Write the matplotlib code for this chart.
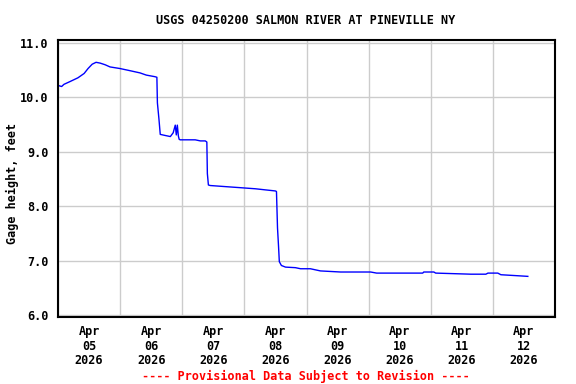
import matplotlib
matplotlib.use("Agg")
import matplotlib.pyplot as plt
import matplotlib.dates as mdates
import pandas as pd
import numpy as np

# Hours after 2026-04-05 00:00 and gage height (feet)
hours = [0.0, 1.4, 2.3, 4.6, 7.7, 10.1, 11.6, 13.2, 14.7, 16.3, 18.2, 20.1,
         24.0, 27.9, 31.7, 34.1, 37.5, 38.2, 38.4, 39.0, 39.5, 41.4, 43.4,
         44.5, 45.3, 45.7, 46.1, 46.5, 46.8, 47.2, 53.0, 55.0, 56.9, 57.5,
         57.7, 58.1, 58.8, 64.6, 70.5, 76.3, 80.1, 84.0, 84.4, 84.8, 85.2,
         85.5, 86.3, 87.9, 91.7, 93.7, 97.5, 101.4, 109.2, 120.8, 123.1,
         132.4, 140.9, 141.3, 145.2, 145.9, 159.5, 165.3, 166.1, 169.9,
         171.1, 178.1, 181.5]
gage_ft = [10.22, 10.20, 10.24, 10.29, 10.36, 10.44, 10.53, 10.61, 10.645,
           10.63, 10.60, 10.56, 10.53, 10.49, 10.45, 10.41, 10.38, 10.37,
           9.90, 9.60, 9.32, 9.30, 9.28, 9.35, 9.49, 9.31, 9.49, 9.29, 9.23,
           9.22, 9.22, 9.20, 9.20, 9.18, 8.60, 8.39, 8.38, 8.36, 8.34, 8.32,
           8.30, 8.28, 8.27, 7.60, 7.26, 6.98, 6.91, 6.88, 6.87, 6.85, 6.85,
           6.81, 6.79, 6.79, 6.77, 6.77, 6.77, 6.79, 6.79, 6.77, 6.75, 6.75,
           6.77, 6.77, 6.74, 6.72, 6.71]

start = pd.Timestamp("2026-04-05 00:00")
times = [start + pd.Timedelta(hours=h) for h in hours]

title = "USGS 04250200 SALMON RIVER AT PINEVILLE NY"
ylabel = "Gage height, feet"
footer = "---- Provisional Data Subject to Revision ----"
yticks = [6.0, 7.0, 8.0, 9.0, 10.0, 11.0]

font = "DejaVu Sans Mono"

fig = plt.figure(figsize=(5.76, 3.84), dpi=100)
ax = fig.add_axes([58/576, 1 - 317/384, (555 - 58)/576, (317 - 40)/384])

ax.plot(times, gage_ft, color="#0000ff", linewidth=1.0)

ax.set_xlim(start, start + pd.Timedelta(days=8))
ax.set_ylim(5.963, 11.055)

ax.xaxis.set_major_locator(mdates.DayLocator())
ax.xaxis.set_major_formatter(plt.NullFormatter())
ax.xaxis.set_minor_locator(mdates.HourLocator(byhour=[12]))
ax.xaxis.set_minor_formatter(mdates.DateFormatter("%b\n%d\n%Y"))
ax.set_yticks(yticks)
ax.set_yticklabels([f"{v:.1f}" for v in yticks])

ax.grid(True, which="major", color="#cccccc", linewidth=1.0)
ax.set_axisbelow(True)
ax.tick_params(which="both", length=0)
ax.tick_params(axis="x", which="minor", pad=6)
ax.tick_params(axis="y", pad=7)

for lab in ax.get_xticklabels(minor=True) + ax.get_yticklabels():
    lab.set_fontfamily(font)
    lab.set_fontweight("bold")
    lab.set_fontsize(8.5)
for lab in ax.get_xticklabels(minor=True):
    lab.set_linespacing(1.15)

for s in ax.spines.values():
    s.set_linewidth(1.5)
    s.set_color("black")

fig.text(306/576, 1 - 20/384, title, ha="center", va="center",
         fontfamily=font, fontweight="bold", fontsize=8.5)
fig.text(12/576, 1 - 183/384, ylabel, ha="center", va="center", rotation=90,
         fontfamily=font, fontweight="bold", fontsize=8.5)
fig.text(306/576, 1 - 376/384, footer, ha="center", va="center", color="red",
         fontfamily=font, fontweight="bold", fontsize=8.5)

fig.savefig("out.png", dpi=100)
